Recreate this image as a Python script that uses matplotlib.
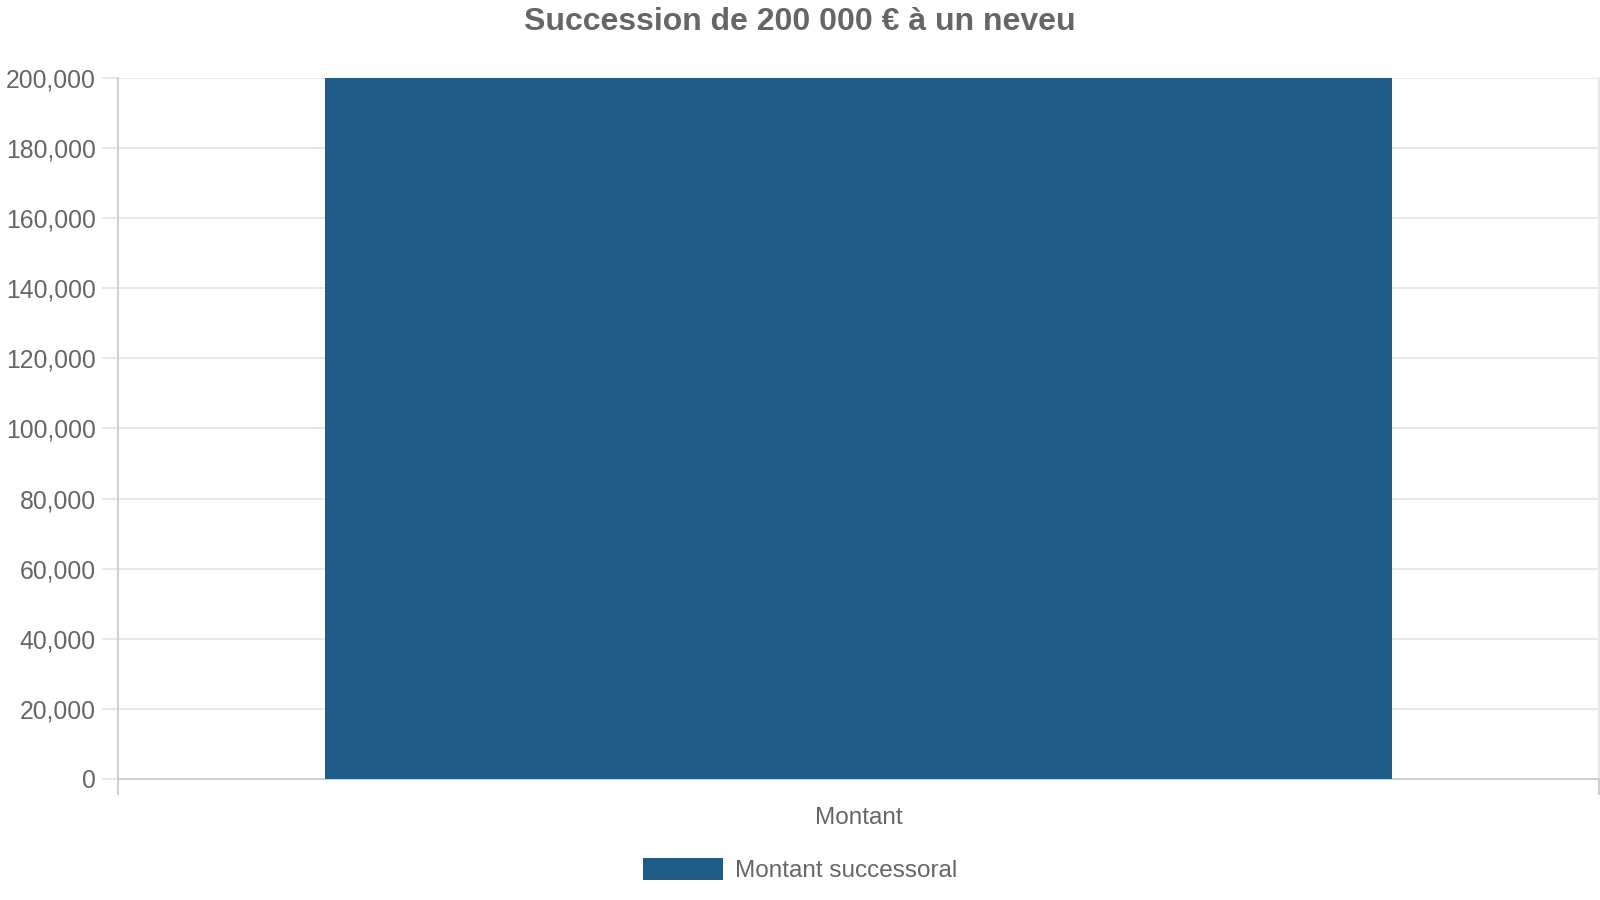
import matplotlib
matplotlib.use("Agg")
import matplotlib.pyplot as plt
from matplotlib.ticker import FuncFormatter

categories = ["Montant"]
montant_successoral = [200000]
yticks = [0, 20000, 40000, 60000, 80000, 100000, 120000, 140000, 160000, 180000, 200000]

txt = "#666666"
bar_col = "#1f5c87"
plt.rcParams["font.family"] = ["Liberation Sans", "DejaVu Sans"]

fig = plt.figure(figsize=(16, 9), dpi=100)
ax = fig.add_axes([118 / 1600, 1 - 779 / 900, 1481 / 1600, 701 / 900])

ax.bar(range(len(categories)), montant_successoral, width=0.72, color=bar_col,
       label="Montant successoral", zorder=3)

ax.set_xlim(-0.5, len(categories) - 0.5)
ax.set_ylim(0, 200000)
ax.set_yticks(yticks)
ax.yaxis.set_major_formatter(FuncFormatter(lambda v, p: f"{int(v):,}"))
ax.set_xticks(range(len(categories)))
ax.set_xticklabels(categories)
ax.set_xticks([-0.5, len(categories) - 0.5], minor=True)

ax.grid(axis="y", color="#e6e6e6", linewidth=1.3, zorder=0)
ax.tick_params(axis="y", length=11.5, width=1.3, color="#e6e6e6", pad=4.5,
               labelsize=17.8, labelcolor=txt)
ax.tick_params(axis="x", which="major", length=0, pad=20, labelsize=17.5, labelcolor=txt)
ax.tick_params(axis="x", which="minor", length=11.5, width=1.3, color="#cccccc")

ax.spines["top"].set_visible(False)
ax.spines["right"].set_color("#e6e6e6")
ax.spines["left"].set_color("#cccccc")
ax.spines["bottom"].set_color("#cccccc")
for s in ax.spines.values():
    s.set_linewidth(1.3)

fig.text(0.5, 1 - 21.5 / 900, "Succession de 200 000 € à un neveu", ha="center", va="center",
         fontsize=23, fontweight="bold", color=txt)

fig.legend(loc="center", bbox_to_anchor=(0.5, 1 - 870 / 900), frameon=False, fontsize=17.5,
           labelcolor=txt, handlelength=3.3, handleheight=1.0, handletextpad=0.5)

fig.savefig("out.png", dpi=100)
